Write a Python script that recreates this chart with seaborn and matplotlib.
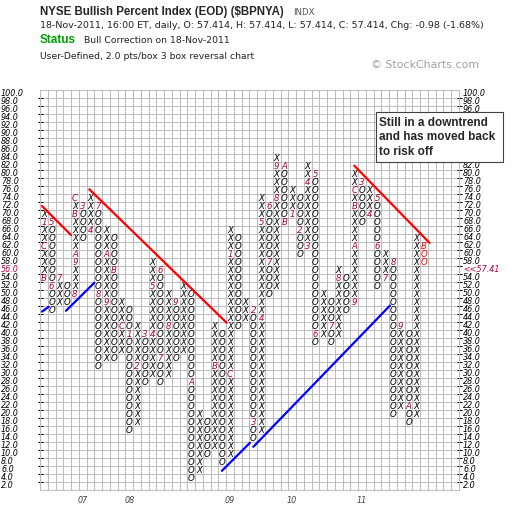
import numpy as np
import pandas as pd
import seaborn as sns
import matplotlib.pyplot as plt
from matplotlib.patches import Rectangle

# point & figure columns: type, lowest box, highest box
col_type = ['X', 'O'] * 25
col_low = [54, 46, 48, 48, 50, 64, 66, 32, 34, 34,
           36, 16, 18, 28, 30, 28, 30, 34, 36, 4,
           6, 10, 12, 8, 10, 42, 44, 14, 16, 50,
           52, 68, 70, 60, 62, 38, 40, 38, 40, 46,
           48, 68, 70, 52, 54, 20, 22, 18, 20, 58]
col_high = [70, 68, 54, 52, 74, 72, 74, 72, 66, 64,
            48, 46, 42, 40, 58, 56, 50, 48, 52, 50,
            20, 18, 42, 40, 66, 64, 48, 46, 74, 72,
            84, 82, 76, 74, 82, 80, 50, 48, 56, 54,
            80, 78, 76, 74, 60, 58, 42, 40, 64, 62]

# month markers (1-9, A=Oct, B=Nov, C=Dec)
mk_col = [0, 0, 0, 1, 1, 2, 4, 4, 4, 4, 4, 5, 6, 7, 7, 8, 8, 9, 10, 11, 12, 13,
          14, 14, 15, 15, 16, 17, 19, 22, 24, 24, 27, 27, 28, 28, 29, 29, 30, 30,
          31, 31, 32, 33, 34, 34, 35, 35, 37, 38, 40, 40, 40, 40, 41, 42, 43, 43,
          44, 45, 46, 47, 49]
mk_val = [54, 62, 68, 68, 52, 54, 50, 58, 60, 70, 74, 72, 66, 72, 50, 48, 60, 56, 42, 40, 32, 40,
          40, 52, 56, 34, 42, 48, 28, 32, 30, 60, 46, 18, 44, 68, 72, 58, 74, 82,
          82, 68, 70, 66, 62, 78, 80, 40, 42, 54, 48, 62, 72, 76, 78, 70, 74, 62,
          54, 58, 42, 22, 62]
mk_lab = ['B', 'C', '1', '5', '6', '7', '8', '9', 'A', 'B', 'C', '3', '4', '7', '8', '9', 'A', 'B', 'C', '1', '2', '3',
          '4', '5', '6', '7', '8', '9', 'A', 'B', 'C', '1', '2', '3', '4', '5', '6', '7', '8', '9',
          'A', 'B', '1', '2', '3', '4', '5', '6', '7', '8', '9', 'A', 'B', 'C', '3', '4', '5', '6',
          '7', '8', '9', 'A', 'B']

year_pos = [5.5, 11.5, 24.5, 32.5, 41.5]
year_lab = ['07', '08', '09', '10', '11']

# trend lines (column, value) endpoints
trend_seg = ['r1', 'r1', 'r2', 'r2', 'r3', 'r3', 'b1', 'b1', 'b2', 'b2', 'b3', 'b3', 'b4', 'b4']
trend_col = [0.26, 4.0, 6.35, 24.06, 40.5, 50.2, 0.26, 1.12, 3.35, 7.0, 23.45, 27.06, 27.5, 45.1]
trend_val = [72.0, 64.75, 76.2, 42.8, 82.1, 62.8, 45.6, 46.8, 45.8, 52.8, 5.8, 12.8, 11.8, 47.1]
seg_colors = {'r1': '#ff0000', 'r2': '#ff0000', 'r3': '#ff0000',
              'b1': '#0000ff', 'b2': '#0000ff', 'b3': '#0000ff', 'b4': '#0000ff'}

last_close = 57.41
MONTH_C = '#b4003c'

sns.set_style('white')
plt.rcParams['font.family'] = ['DejaVu Sans']

W, H = 520, 514
fig = plt.figure(figsize=(W / 100, H / 100), dpi=100)
ax = fig.add_axes([40 / W, (H - 490) / H, 419 / W, 400 / H])


def px(x, y):
    return x / W, 1 - y / H


# build the boxes
marks = {(c, v): l for c, v, l in zip(mk_col, mk_val, mk_lab)}
rows = []
for c, (t, lo, hi) in enumerate(zip(col_type, col_low, col_high)):
    for v in range(lo, hi + 1, 2):
        lab = marks.get((c, v), t)
        if c == len(col_type) - 1:
            color = '#ff0000'
        elif (c, v) in marks:
            color = MONTH_C
        else:
            color = 'black'
        rows.append((c + 0.5, v, lab, color))
boxes = pd.DataFrame(rows, columns=['col', 'val', 'ch', 'color'])

for _, r in boxes.iterrows():
    ax.text(r['col'], r['val'] - 0.05, r['ch'], ha='center', va='center',
            fontsize=6.2, style='italic', color=r['color'], zorder=4)

trend = pd.DataFrame({'seg': trend_seg, 'col': trend_col, 'val': trend_val})
sns.lineplot(data=trend, x='col', y='val', hue='seg', palette=seg_colors,
             estimator=None, sort=False, legend=False, linewidth=1.6, ax=ax, zorder=5)
ax.set_xlabel('')
ax.set_ylabel('')

ax.set_xlim(0, 54)
ax.set_ylim(1, 101)
ax.set_xticks(np.arange(0, 55), minor=True)
ax.set_xticks(year_pos, labels=year_lab)
ax.set_yticks(np.arange(3, 100, 2))
ax.set_yticklabels([])
ax.grid(which='minor', axis='x', color='#bdbdbd', lw=0.75)
ax.grid(which='major', axis='y', color='#bdbdbd', lw=0.75)
ax.set_axisbelow(True)
for s in ax.spines.values():
    s.set_color('#bdbdbd')
    s.set_linewidth(0.75)
ax.tick_params(axis='x', which='minor', length=0)
ax.tick_params(axis='x', which='major', length=3, width=0.7, color='#555555',
               labelsize=5.8, labelcolor='#404040', pad=1.5)
for t in ax.get_xticklabels():
    t.set_style('italic')
ax.tick_params(axis='y', which='major', left=True, right=True, direction='inout',
               length=3.6, width=0.75, color='black')

# price scale labels on both sides
ytr = ax.get_yaxis_transform()
for v in range(2, 101, 2):
    c = MONTH_C if v == 56 else 'black'
    ax.text((1 - 40) / 419, v, f'{v:.1f}', transform=ytr, ha='left', va='center',
            fontsize=5.8, style='italic', color=c, clip_on=False)
    rlab = f'<<{last_close:.2f}' if v == 56 else f'{v:.1f}'
    ax.text((463 - 40) / 419, v, rlab, transform=ytr, ha='left', va='center',
            fontsize=5.8, style='italic', color=c, clip_on=False)

# header
fig.text(*px(40, 15), 'NYSE Bullish Percent Index (EOD) ($BPNYA)', family='Liberation Sans',
         weight='bold', fontsize=8.3, va='baseline')
fig.text(*px(293, 15), 'INDX', fontsize=6.2, color='#555555', va='baseline')
fig.text(*px(40, 27.5), '18-Nov-2011, 16:00 ET, daily, O: 57.414, H: 57.414, L: 57.414, '
         'C: 57.414, Chg: -0.98 (-1.68%)', fontsize=6.8, color='#222222', va='baseline')
fig.text(*px(40, 42.7), 'Status', family='Liberation Sans', weight='bold', fontsize=8.5,
         color='#00a000', va='baseline')
fig.text(*px(84, 42.7), 'Bull Correction on 18-Nov-2011', fontsize=6.7, color='#222222',
         va='baseline')
fig.text(*px(40, 59.3), 'User-Defined, 2.0 pts/box 3 box reversal chart', fontsize=6.7,
         color='#222222', va='baseline')
fig.text(*px(371, 64.7), '\u00a9 StockCharts.com', fontsize=7.9, color='#a0a0a0', va='center')

# annotation box
fig.add_artist(Rectangle(px(375.7, 161.7), 127 / W, 49.7 / H, transform=fig.transFigure,
                         facecolor='white', edgecolor='#404040', lw=0.8, zorder=5))
for y, line in zip([123, 137.2, 151.5], ['Still in a downtrend', 'and has moved back', 'to risk off']):
    fig.text(*px(379, y), line, family='Liberation Sans', weight='bold', fontsize=8.5,
             va='center', zorder=6)

fig.savefig('out.png', dpi=100, facecolor='white')
